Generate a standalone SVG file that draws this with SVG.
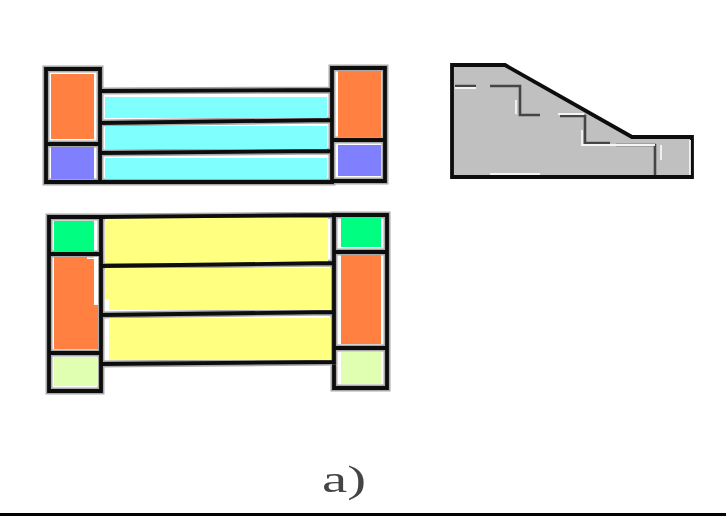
<svg xmlns="http://www.w3.org/2000/svg" width="726" height="516" viewBox="0 0 726 516">
<style>
.o{fill:#ff8040}.b{fill:#8080ff}.c{fill:#80ffff}.y{fill:#ffff80}.g{fill:#00ff80}.l{fill:#e0ffb0}
.s{fill:none;stroke:#0c0c0c;stroke-width:3.8;stroke-linejoin:miter;stroke-linecap:square}
.h{fill:none;stroke:#a8a8a8;stroke-width:7;stroke-linejoin:miter;stroke-linecap:square}
.d{fill:none;stroke:#444;stroke-width:2.6}
.w{fill:none;stroke:#f4f4f4;stroke-width:1.8}
text{font-family:"Liberation Serif",serif;font-size:38px;fill:#444}
</style>
<defs>
<filter id="soft" x="-5%" y="-5%" width="110%" height="110%"><feGaussianBlur stdDeviation="0.45"/></filter>
<path id="topLines" d="M46 69H100V182H46ZM46 144H100M332 68H385V181H332ZM332 140H385M100 91L332 90M100 123L332 120M100 153L332 151M100 182H332"/>
<path id="botLines" d="M49 217H101V391H49ZM49 254H101M49 353H101M334 215H387V388H334ZM334 252H387M334 348H387M101 217L334 215M101 266L334 263M101 315L334 312M101 364L334 362"/>
</defs>
<rect width="726" height="516" fill="#fff"/>
<g id="top-frame" filter="url(#soft)">
<use href="#topLines" class="h"/>
<rect class="c" x="105" y="97" width="222" height="21"/>
<rect class="c" x="105" y="126" width="222" height="23"/>
<rect class="c" x="105" y="158" width="222" height="21"/>
<rect class="o" x="51" y="74" width="43" height="65"/>
<rect class="b" x="51" y="147" width="43" height="32"/>
<rect class="o" x="338" y="71" width="43" height="66"/>
<rect class="b" x="338" y="145" width="43" height="31"/>
<use href="#topLines" class="s"/>
</g>
<g id="section" filter="url(#soft)">
<path d="M452 65H505L632 137H692V177H452Z" fill="#c0c0c0" stroke="#0c0c0c" stroke-width="3.8"/>
<path class="d" d="M455 86H476M490 86H520V115H540M560 116H585V143H610M616 145H655V175"/>
<path class="w" d="M455 88H476M516 100V114M558 114H584M582 130V145H655M661 145V160M490 174H540M690 140V175"/>
</g>
<g id="bottom-frame" filter="url(#soft)">
<use href="#botLines" class="h"/>
<rect class="y" x="105" y="218" width="223" height="45"/>
<path class="y" d="M105 268H331V310H109V299H105Z"/>
<rect class="y" x="109" y="318" width="222" height="42"/>
<rect class="g" x="54" y="221" width="40" height="31"/>
<path class="o" d="M54 257H87V259H94V305H98V349H54Z"/>
<rect class="l" x="54" y="357" width="44" height="29"/>
<rect class="g" x="341" y="218" width="40" height="29"/>
<rect class="o" x="341" y="255" width="40" height="89"/>
<rect class="l" x="341" y="352" width="40" height="32"/>
<rect x="94" y="257" width="4" height="48" fill="#fff"/>
<use href="#botLines" class="s"/>
</g>
<g id="caption" filter="url(#soft)">
<text x="322" y="492" textLength="44" lengthAdjust="spacingAndGlyphs">a)</text>
</g>
<rect id="rule" x="0" y="513" width="726" height="3" fill="#000"/>
</svg>
